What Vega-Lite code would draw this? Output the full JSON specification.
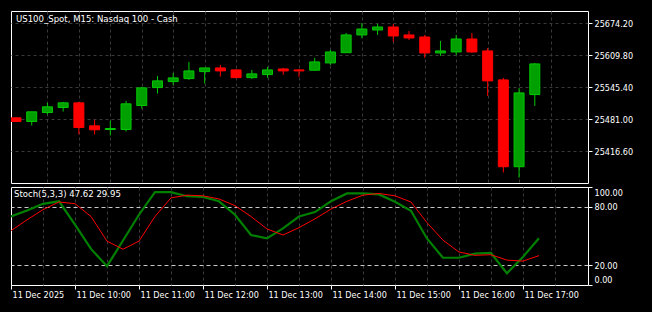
{
  "$schema": "https://vega.github.io/schema/vega-lite/v6.json",
  "background": "#000000",
  "padding": {"left": 10, "top": 10, "right": 21, "bottom": 14},
  "spacing": 2,
  "config": {
    "font": "DejaVu Sans Condensed, DejaVu Sans, sans-serif",
    "view": {"stroke": "#ffffff", "strokeWidth": 1},
    "axis": {"labelColor": "#ffffff", "tickColor": "#ffffff", "labelFontSize": 9, "labelFont": "DejaVu Sans Condensed", "domain": false, "title": null, "gridColor": "#3a3a3a", "gridDash": [3, 3], "tickSize": 4, "labelPadding": 2},
    "title": {"color": "#ffffff", "fontSize": 9.5, "font": "DejaVu Sans Condensed", "fontWeight": "normal", "anchor": "start", "frame": "group"}
  },
  "datasets": {
    "bars": [
      {"t": "2025-12-11T09:00", "o": 25483.6, "h": 25484.5, "l": 25475.5, "c": 25476.2, "k": 69.9, "d": 55.4},
      {"t": "2025-12-11T09:15", "o": 25476.2, "h": 25495.7, "l": 25468.1, "c": 25495.7, "k": 76.1, "d": 66.5},
      {"t": "2025-12-11T09:30", "o": 25494.3, "h": 25513.8, "l": 25490.3, "c": 25505.8, "k": 82.8, "d": 76.9},
      {"t": "2025-12-11T09:45", "o": 25504.4, "h": 25515.8, "l": 25496.3, "c": 25513.8, "k": 85.4, "d": 84.7},
      {"t": "2025-12-11T10:00", "o": 25513.8, "h": 25515.8, "l": 25450.0, "c": 25464.1, "k": 61.6, "d": 83.0},
      {"t": "2025-12-11T10:15", "o": 25467.5, "h": 25479.6, "l": 25450.0, "c": 25459.5, "k": 36.8, "d": 69.9},
      {"t": "2025-12-11T10:30", "o": 25460.1, "h": 25477.6, "l": 25448.0, "c": 25462.1, "k": 19.2, "d": 44.8},
      {"t": "2025-12-11T10:45", "o": 25460.1, "h": 25517.8, "l": 25456.1, "c": 25511.8, "k": 45.4, "d": 36.5},
      {"t": "2025-12-11T11:00", "o": 25508.4, "h": 25546.0, "l": 25502.3, "c": 25544.0, "k": 71.7, "d": 44.8},
      {"t": "2025-12-11T11:15", "o": 25544.6, "h": 25568.1, "l": 25532.5, "c": 25558.1, "k": 94.8, "d": 69.9},
      {"t": "2025-12-11T11:30", "o": 25556.7, "h": 25574.2, "l": 25550.0, "c": 25564.1, "k": 94.8, "d": 88.9},
      {"t": "2025-12-11T11:45", "o": 25562.7, "h": 25596.3, "l": 25560.1, "c": 25578.2, "k": 90.6, "d": 91.7},
      {"t": "2025-12-11T12:00", "o": 25576.8, "h": 25584.2, "l": 25552.7, "c": 25584.2, "k": 89.8, "d": 91.0},
      {"t": "2025-12-11T12:15", "o": 25584.2, "h": 25590.3, "l": 25566.7, "c": 25578.2, "k": 85.4, "d": 87.8},
      {"t": "2025-12-11T12:30", "o": 25580.2, "h": 25582.2, "l": 25563.5, "c": 25564.7, "k": 71.7, "d": 81.0},
      {"t": "2025-12-11T12:45", "o": 25564.7, "h": 25580.2, "l": 25562.1, "c": 25572.2, "k": 51.0, "d": 69.9},
      {"t": "2025-12-11T13:00", "o": 25570.8, "h": 25586.3, "l": 25564.1, "c": 25580.2, "k": 47.5, "d": 57.2},
      {"t": "2025-12-11T13:15", "o": 25582.2, "h": 25584.2, "l": 25570.2, "c": 25578.2, "k": 57.8, "d": 51.0},
      {"t": "2025-12-11T13:30", "o": 25580.2, "h": 25582.2, "l": 25566.1, "c": 25578.2, "k": 69.9, "d": 58.5},
      {"t": "2025-12-11T13:45", "o": 25579.6, "h": 25604.4, "l": 25578.2, "c": 25596.3, "k": 74.4, "d": 67.5},
      {"t": "2025-12-11T14:00", "o": 25594.3, "h": 25620.5, "l": 25590.3, "c": 25616.4, "k": 85.4, "d": 77.5},
      {"t": "2025-12-11T14:15", "o": 25615.0, "h": 25654.7, "l": 25615.0, "c": 25650.7, "k": 93.4, "d": 85.4},
      {"t": "2025-12-11T14:30", "o": 25650.7, "h": 25674.8, "l": 25644.6, "c": 25662.7, "k": 93.4, "d": 91.7},
      {"t": "2025-12-11T14:45", "o": 25660.7, "h": 25672.8, "l": 25650.7, "c": 25666.8, "k": 92.4, "d": 93.4},
      {"t": "2025-12-11T15:00", "o": 25666.8, "h": 25672.8, "l": 25636.6, "c": 25648.6, "k": 85.0, "d": 91.0},
      {"t": "2025-12-11T15:15", "o": 25650.7, "h": 25658.7, "l": 25640.6, "c": 25644.6, "k": 75.8, "d": 84.7},
      {"t": "2025-12-11T15:30", "o": 25646.6, "h": 25650.7, "l": 25604.4, "c": 25614.4, "k": 47.5, "d": 63.7},
      {"t": "2025-12-11T15:45", "o": 25614.4, "h": 25638.6, "l": 25608.4, "c": 25618.5, "k": 27.8, "d": 45.8},
      {"t": "2025-12-11T16:00", "o": 25616.4, "h": 25650.7, "l": 25610.4, "c": 25642.6, "k": 27.8, "d": 33.7},
      {"t": "2025-12-11T16:15", "o": 25642.6, "h": 25654.7, "l": 25614.4, "c": 25616.4, "k": 32.0, "d": 30.3},
      {"t": "2025-12-11T16:30", "o": 25618.5, "h": 25624.5, "l": 25527.9, "c": 25558.1, "k": 32.7, "d": 30.9},
      {"t": "2025-12-11T16:45", "o": 25560.1, "h": 25564.1, "l": 25373.5, "c": 25385.0, "k": 12.0, "d": 25.4},
      {"t": "2025-12-11T17:00", "o": 25385.0, "h": 25544.0, "l": 25362.9, "c": 25533.9, "k": 28.6, "d": 24.4},
      {"t": "2025-12-11T17:15", "o": 25530.5, "h": 25594.3, "l": 25507.8, "c": 25592.3, "k": 47.62, "d": 29.95}
    ]
  },
  "vconcat": [
    {
      "width": 577,
      "height": 172,
      "title": {"text": "US100_Spot, M15:  Nasdaq 100 - Cash", "offset": -12, "dx": 5},
      "data": {"name": "bars"},
      "encoding": {
        "x": {
          "field": "t", "type": "temporal",
          "scale": {"domain": [{"year": 2025, "month": 12, "date": 11, "hours": 9, "minutes": 0}, {"year": 2025, "month": 12, "date": 11, "hours": 18, "minutes": 1}]},
          "axis": {
            "labels": false, "ticks": false, "grid": true,
            "values": [
              {"year": 2025, "month": 12, "date": 11, "hours": 9, "minutes": 30},
              {"year": 2025, "month": 12, "date": 11, "hours": 10, "minutes": 0},
              {"year": 2025, "month": 12, "date": 11, "hours": 10, "minutes": 30},
              {"year": 2025, "month": 12, "date": 11, "hours": 11, "minutes": 0},
              {"year": 2025, "month": 12, "date": 11, "hours": 11, "minutes": 30},
              {"year": 2025, "month": 12, "date": 11, "hours": 12, "minutes": 0},
              {"year": 2025, "month": 12, "date": 11, "hours": 12, "minutes": 30},
              {"year": 2025, "month": 12, "date": 11, "hours": 13, "minutes": 0},
              {"year": 2025, "month": 12, "date": 11, "hours": 13, "minutes": 30},
              {"year": 2025, "month": 12, "date": 11, "hours": 14, "minutes": 0},
              {"year": 2025, "month": 12, "date": 11, "hours": 14, "minutes": 30},
              {"year": 2025, "month": 12, "date": 11, "hours": 15, "minutes": 0},
              {"year": 2025, "month": 12, "date": 11, "hours": 15, "minutes": 30},
              {"year": 2025, "month": 12, "date": 11, "hours": 16, "minutes": 0},
              {"year": 2025, "month": 12, "date": 11, "hours": 16, "minutes": 30},
              {"year": 2025, "month": 12, "date": 11, "hours": 17, "minutes": 0},
              {"year": 2025, "month": 12, "date": 11, "hours": 17, "minutes": 30}
            ]
          }
        }
      },
      "layer": [
        {
          "mark": {"type": "rule", "clip": true, "strokeWidth": 1},
          "encoding": {
            "y": {
              "field": "l", "type": "quantitative",
              "scale": {"domain": [25352.2, 25699.0], "nice": false, "zero": false},
              "axis": {"orient": "right", "values": [25416.6, 25481.0, 25545.4, 25609.8, 25674.2], "format": ".2f", "grid": true, "labelOverlap": false}
            },
            "y2": {"field": "h"},
            "color": {"condition": {"test": "datum.c >= datum.o", "value": "#00c800"}, "value": "#ff0000"}
          }
        },
        {
          "mark": {"type": "bar", "clip": true, "size": 10, "strokeWidth": 1},
          "encoding": {
            "y": {"field": "o", "type": "quantitative"},
            "y2": {"field": "c"},
            "fill": {"condition": {"test": "datum.c >= datum.o", "value": "#00a000"}, "value": "#ff0000"},
            "stroke": {"condition": {"test": "datum.c >= datum.o", "value": "#00c800"}, "value": "#ff0000"}
          }
        }
      ]
    },
    {
      "width": 577,
      "height": 98,
      "title": {"text": "Stoch(5,3,3) 47.62 29.95", "offset": -12, "dx": 3},
      "data": {"name": "bars"},
      "transform": [{"fold": ["k", "d"], "as": ["series", "value"]}],
      "mark": {"type": "line", "clip": true},
      "encoding": {
        "x": {
          "field": "t", "type": "temporal",
          "scale": {"domain": [{"year": 2025, "month": 12, "date": 11, "hours": 9, "minutes": 0}, {"year": 2025, "month": 12, "date": 11, "hours": 18, "minutes": 1}]},
          "axis": {
            "grid": true, "labelAlign": "left", "labelOffset": 1, "labelPadding": 1, "labelFlush": false, "labelOverlap": false, "labelBaseline": "top",
            "tickOpacity": {"condition": {"test": "minutes(datum.value) == 0", "value": 1}, "value": 0},
            "gridOpacity": {"condition": {"test": "hours(datum.value) == 9 && minutes(datum.value) == 0", "value": 0}, "value": 1},
            "labelExpr": "minutes(datum.value) != 0 ? '' : (hours(datum.value) == 9 ? '11 Dec 2025' : timeFormat(datum.value, '11 Dec %H:%M'))",
            "values": [
              {"year": 2025, "month": 12, "date": 11, "hours": 9, "minutes": 0},
              {"year": 2025, "month": 12, "date": 11, "hours": 9, "minutes": 30},
              {"year": 2025, "month": 12, "date": 11, "hours": 10, "minutes": 0},
              {"year": 2025, "month": 12, "date": 11, "hours": 10, "minutes": 30},
              {"year": 2025, "month": 12, "date": 11, "hours": 11, "minutes": 0},
              {"year": 2025, "month": 12, "date": 11, "hours": 11, "minutes": 30},
              {"year": 2025, "month": 12, "date": 11, "hours": 12, "minutes": 0},
              {"year": 2025, "month": 12, "date": 11, "hours": 12, "minutes": 30},
              {"year": 2025, "month": 12, "date": 11, "hours": 13, "minutes": 0},
              {"year": 2025, "month": 12, "date": 11, "hours": 13, "minutes": 30},
              {"year": 2025, "month": 12, "date": 11, "hours": 14, "minutes": 0},
              {"year": 2025, "month": 12, "date": 11, "hours": 14, "minutes": 30},
              {"year": 2025, "month": 12, "date": 11, "hours": 15, "minutes": 0},
              {"year": 2025, "month": 12, "date": 11, "hours": 15, "minutes": 30},
              {"year": 2025, "month": 12, "date": 11, "hours": 16, "minutes": 0},
              {"year": 2025, "month": 12, "date": 11, "hours": 16, "minutes": 30},
              {"year": 2025, "month": 12, "date": 11, "hours": 17, "minutes": 0},
              {"year": 2025, "month": 12, "date": 11, "hours": 17, "minutes": 30}
            ]
          }
        },
        "y": {
          "field": "value", "type": "quantitative",
          "scale": {"domain": [0, 100], "nice": false, "zero": false},
          "axis": {
            "orient": "right", "values": [0, 20, 80, 100], "format": ".2f", "labelOverlap": false, "labelFlush": false, "labelBound": false,
            "labelOffset": {"condition": [{"test": "datum.value == 100", "value": 5}, {"test": "datum.value == 0", "value": -6}], "value": 0},
            "grid": true, "gridDash": [4, 3], "gridColor": "#c8c8c8",
            "gridOpacity": {"condition": {"test": "datum.value == 20 || datum.value == 80", "value": 1}, "value": 0}
          }
        },
        "color": {"field": "series", "type": "nominal", "scale": {"domain": ["k", "d"], "range": ["#008000", "#ff0000"]}, "legend": null},
        "strokeWidth": {"field": "series", "type": "nominal", "scale": {"domain": ["k", "d"], "range": [2.2, 1]}, "legend": null}
      }
    }
  ]
}
